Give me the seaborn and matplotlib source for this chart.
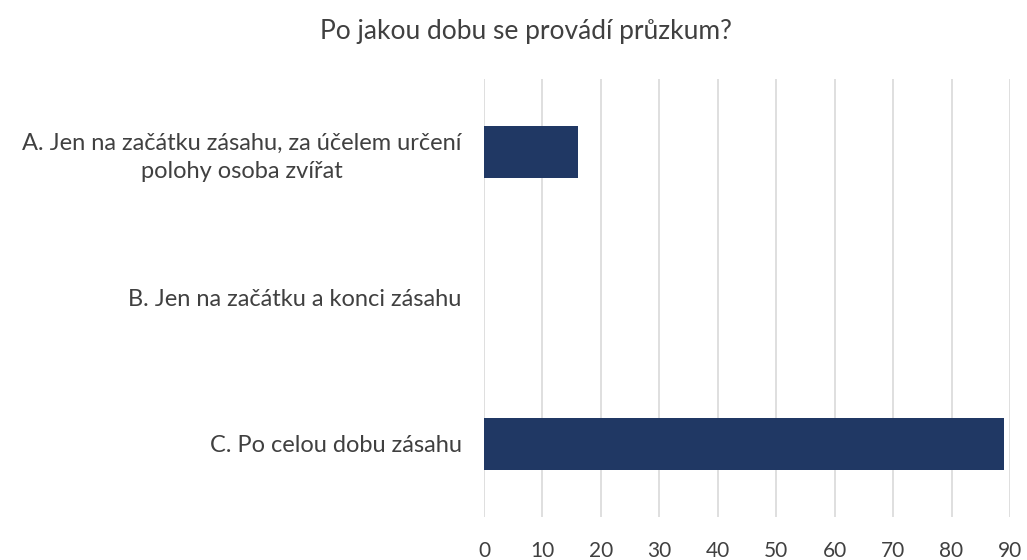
import pandas as pd
import matplotlib
matplotlib.use("Agg")
import matplotlib.pyplot as plt
import seaborn as sns

categories = ["A. Jen na začátku zásahu, za účelem určení\npolohy osoba zvířat",
              "B. Jen na začátku a konci zásahu",
              "C. Po celou dobu zásahu"]
values = [16, 0, 89]
xticks = [0, 10, 20, 30, 40, 50, 60, 70, 80, 90]
title = "Po jakou dobu se provádí průzkum?"

sns.set_style("white")
plt.rcParams['font.family'] = ['Lato', 'DejaVu Sans']
txt = '#404040'

df = pd.DataFrame({'Odpoved': categories, 'Pocet': values})

fig = plt.figure(figsize=(10.27, 5.6), dpi=100, facecolor='white')
ax = fig.add_axes([0.4713, 0.0768, 0.5121, 0.7822])
sns.barplot(data=df, y='Odpoved', x='Pocet', color='#203864', orient='h',
            width=0.36, ax=ax, linewidth=0, saturation=1)

ax.set_xlim(0, 90)
ax.set_xticks(xticks)
ax.xaxis.grid(True, color='#d9d9d9', linewidth=1.2)
ax.set_axisbelow(True)
for s in ax.spines.values():
    s.set_visible(False)
ax.tick_params(axis='x', length=0, pad=17, labelsize=15, labelcolor=txt)
ax.tick_params(axis='y', length=0, pad=16, labelsize=17, labelcolor=txt)
for lab in ax.get_yticklabels():
    lab.set_multialignment('center')
    lab.set_linespacing(1.4)
ax.set_xlabel("")
ax.set_ylabel("")
fig.text(0.512, 0.944, title, ha='center', va='center', fontsize=19, color=txt)

plt.savefig("out.png", dpi=100, facecolor='white')
